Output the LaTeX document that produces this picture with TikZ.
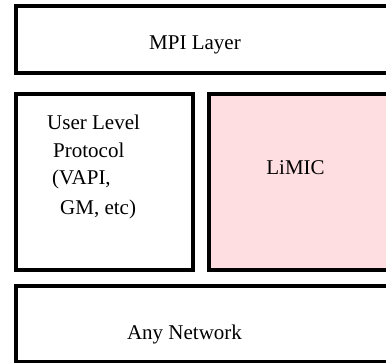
\documentclass[tikz,border=0pt]{standalone}
\usepackage{fontspec}
\setmainfont{Liberation Serif}
\definecolor{limicpink}{RGB}{255,222,225}
\tikzset{
  layerbox/.style={draw, line width=4pt, rectangle, inner sep=0pt},
  boxtext/.style={anchor=base, inner sep=0pt, font=\fontsize{21}{21}\selectfont},
  linetext/.style={anchor=base west, inner sep=0pt, font=\fontsize{21}{21}\selectfont}
}
\begin{document}
\begin{tikzpicture}[x=1pt,y=-1pt]
  \useasboundingbox (0,0) rectangle (386,363);
  \clip (0,0) rectangle (386,363);
  % layers
  \node[layerbox, minimum width=373pt, minimum height=67pt] (mpi) at (202.5,39.5) {};
  \node[layerbox, minimum width=177pt, minimum height=176pt] (ulp) at (104.5,182.5) {};
  \node[layerbox, fill=limicpink, minimum width=180pt, minimum height=176pt] (limic) at (299,182.5) {};
  \node[layerbox, minimum width=373pt, minimum height=76pt] (net) at (202.5,324) {};
  % texts
  \node[boxtext] (mpitext) at (195,50) {MPI Layer};
  \node[boxtext] (limictext) at (295.5,175) {LiMIC};
  \node[boxtext] (nettext) at (184.5,340) {Any Network};
  \node[linetext] (ulpa) at (47,130) {User Level};
  \node[linetext] (ulpb) at (53,158) {Protocol};
  \node[linetext] (ulpc) at (52,185) {(VAPI,};
  \node[linetext] (ulpd) at (60,215) {GM, etc)};
\end{tikzpicture}
\end{document}
